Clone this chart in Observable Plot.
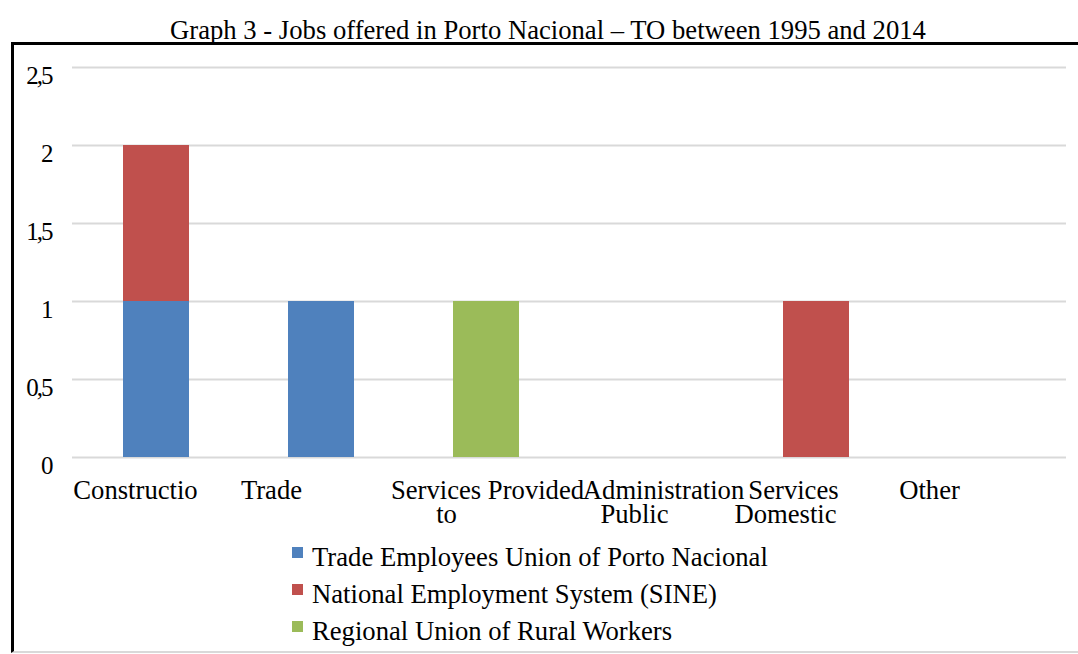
<!DOCTYPE html>
<html>
<head>
<meta charset="utf-8">
<script src="https://cdn.jsdelivr.net/npm/d3@7"></script>
<script src="https://cdn.jsdelivr.net/npm/@observablehq/plot@0.6"></script>
<style>
  html, body { margin: 0; padding: 0; background: #fff; }
  #wrap { position: relative; width: 1078px; height: 654px; overflow: hidden; font-family: "Liberation Serif", "Times New Roman", serif; }
  #title { position: absolute; left: 0; width: 1096px; top: 15px; text-align: center; font-size: 26.67px; color: #000; white-space: nowrap; }
  #box { position: absolute; left: 11px; top: 42px; width: 1080px; height: 611px; border-top: 3px solid #000; border-left: 3px solid #000; border-bottom: 2px solid #d9d9d9; box-sizing: border-box; }
  #chart { position: absolute; left: 0; top: 0; }
  #chart svg, #chart svg text { font-family: "Liberation Serif", "Times New Roman", serif; }
  #chart g[aria-label="y-axis tick label"] text { letter-spacing: -2px; }
  #legend { position: absolute; left: 292px; top: 542px; font-size: 26.67px; color: #000; }
  .row { height: 37px; line-height: normal; display: flex; align-items: flex-start; white-space: nowrap; }
  .sw { width: 11px; height: 11px; margin-top: 5px; margin-right: 9px; flex: none; }
</style>
</head>
<body>
<div id="wrap">
  <div id="box"></div>
  <div id="title">Graph 3 - Jobs offered in Porto Nacional – TO between 1995 and 2014</div>
  <div id="chart"></div>
  <div id="legend"></div>
</div>
<script>
const categories = ["Construction", "Trade", "Services Provided to", "Administration Public", "Services Domestic", "Other"];
const categoryLabelLines = [["Constructio"], ["Trade"], ["Services Provided", "to"], ["Administration", "Public"], ["Services", "Domestic"], ["Other"]];
const seriesNames = ["Trade Employees Union of Porto Nacional", "National Employment System (SINE)", "Regional Union of Rural Workers"];
const tradeUnion = [1, 1, 0, 0, 0, 0];
const sine = [1, 0, 0, 0, 1, 0];
const ruralUnion = [0, 0, 1, 0, 0, 0];
const seriesColors = ["#4f81bd", "#c0504d", "#9bbb59"];
const yTicks = [0, 0.5, 1, 1.5, 2, 2.5];

const seriesValues = [tradeUnion, sine, ruralUnion];
const rows = [];
seriesNames.forEach((s, si) => {
  categories.forEach((c, ci) => {
    rows.push({category: c, series: s, value: seriesValues[si][ci]});
  });
});

// label nudges (px) imitating the spreadsheet's label layout, per category and line
const labelNudge = [[-21], [-50], [1, -40], [12, -17], [-23, -31], [-52]];
const xLabelMarks = [];
categories.forEach((c, i) => {
  categoryLabelLines[i].forEach((line, j) => {
    xLabelMarks.push(Plot.axisX([c], {
      tickSize: 0, tickPadding: 23, dx: labelNudge[i][j], dy: j * 24,
      tickFormat: () => line, label: null, fontSize: 26.67
    }));
  });
});

const chart = Plot.plot({
  width: 1078,
  height: 540,
  marginLeft: 72,
  marginRight: 12,
  marginTop: 67,
  marginBottom: 83,
  style: {fontFamily: "'Liberation Serif', 'Times New Roman', serif", fontSize: "26.67px", color: "#000", background: "transparent", overflow: "visible"},
  x: {domain: categories, paddingInner: 0.6, paddingOuter: 0.3, label: null},
  y: {domain: [0, 2.5], label: null},
  color: {domain: seriesNames, range: seriesColors},
  marks: [
    Plot.gridY(yTicks, {stroke: "#d9d9d9", strokeOpacity: 1, strokeWidth: 2}),
    Plot.barY(rows, Plot.stackY({x: "category", y: "value", fill: "series", order: seriesNames})),
    Plot.axisY(yTicks, {tickSize: 0, tickPadding: 21, dy: 8, tickFormat: d => String(d).replace(".", ","), label: null, fontSize: 25}),
    ...xLabelMarks
  ]
});
document.getElementById("chart").appendChild(chart);

const legend = document.getElementById("legend");
seriesNames.forEach((s, i) => {
  const r = document.createElement("div");
  r.className = "row";
  const sw = document.createElement("div");
  sw.className = "sw";
  sw.style.background = seriesColors[i];
  const t = document.createElement("span");
  t.textContent = s;
  r.appendChild(sw);
  r.appendChild(t);
  legend.appendChild(r);
});
</script>
</body>
</html>
